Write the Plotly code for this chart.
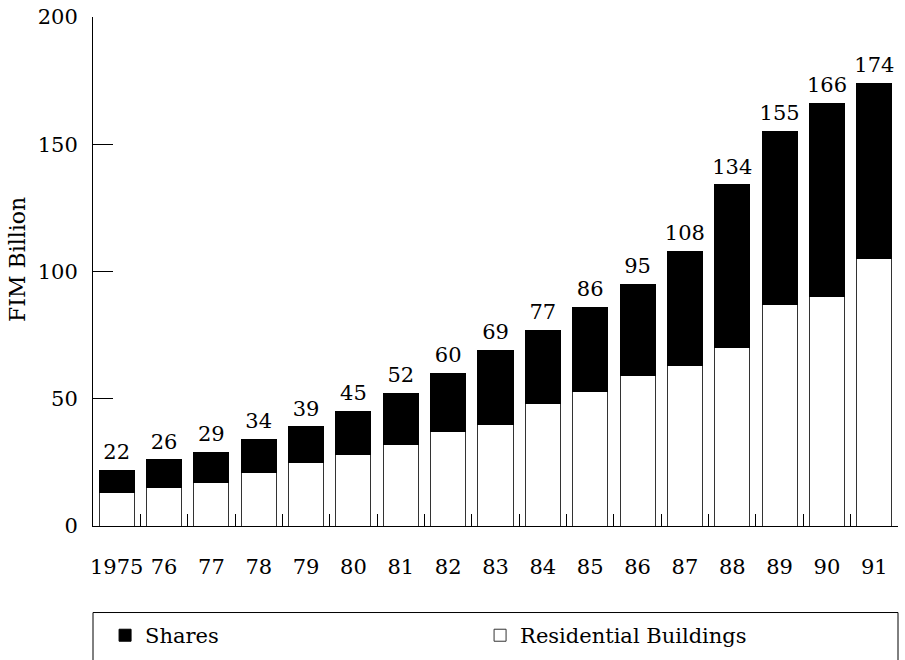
import plotly.graph_objects as go

years = ["1975", "76", "77", "78", "79", "80", "81", "82", "83", "84", "85",
         "86", "87", "88", "89", "90", "91"]
totals = [22, 26, 29, 34, 39, 45, 52, 60, 69, 77, 86, 95, 108, 134, 155, 166, 174]
residential = [13, 15, 17, 21, 25, 28, 32, 37, 40, 48, 53, 59, 63, 70, 87, 90, 105]
shares = [t - r for t, r in zip(totals, residential)]

FONT = "DejaVu Serif"
fs = 21

fig = go.Figure()
fig.add_trace(go.Bar(
    x=years, y=residential, name="Residential Buildings",
    marker=dict(color="white", line=dict(color="#333333", width=1)),
    hoverinfo="skip",
))
fig.add_trace(go.Bar(
    x=years, y=shares, name="Shares",
    marker=dict(color="black", line=dict(color="black", width=1)),
    hoverinfo="skip",
))
fig.add_trace(go.Scatter(
    x=years, y=totals, mode="markers+text", text=[str(t) for t in totals],
    marker=dict(size=8, opacity=0),
    textposition="top center", textfont=dict(family=FONT, size=fs, color="black"),
    showlegend=False, hoverinfo="skip", cliponaxis=False,
))

fig.update_layout(
    width=905, height=660,
    margin=dict(l=93, r=7, t=17, b=134, autoexpand=False),
    paper_bgcolor="white", plot_bgcolor="white",
    barmode="stack", bargap=0.26,
    font=dict(family=FONT, size=fs, color="black"),
    showlegend=True,
    legend=dict(
        orientation="h", x=0.015, xanchor="left", y=-0.175, yanchor="top",
        traceorder="reversed", entrywidth=330, entrywidthmode="pixels",
        font=dict(family=FONT, size=fs, color="black"),
        bgcolor="rgba(0,0,0,0)", borderwidth=0,
    ),
    xaxis=dict(
        type="category", range=[-0.5, len(years) - 0.5],
        showline=True, linecolor="black", linewidth=1,
        ticks="inside", ticklen=12, tickcolor="black", tickson="boundaries",
        showgrid=False, zeroline=False, ticklabelstandoff=22, tickangle=0,
        automargin=False,
        tickfont=dict(family=FONT, size=fs, color="black"),
    ),
    yaxis=dict(
        range=[0, 200], tickvals=[0, 50, 100, 150, 200],
        showline=True, linecolor="black", linewidth=1,
        ticks="inside", ticklen=20, tickcolor="black",
        showgrid=False, zeroline=False, ticklabelstandoff=10, automargin=False,
        tickfont=dict(family=FONT, size=fs, color="black"),
    ),
    annotations=[dict(
        text="FIM Billion", xref="paper", yref="paper", x=-0.093, y=0.523,
        textangle=-90, showarrow=False, font=dict(family=FONT, size=22, color="black"),
        xanchor="center", yanchor="middle",
    )],
    shapes=[dict(
        type="rect", xref="paper", yref="paper", x0=0.0, x1=1.0,
        y0=-0.170, y1=-0.40, line=dict(color="black", width=1),
        fillcolor="rgba(0,0,0,0)", layer="above",
    )],
)

fig.write_html("out.html")
